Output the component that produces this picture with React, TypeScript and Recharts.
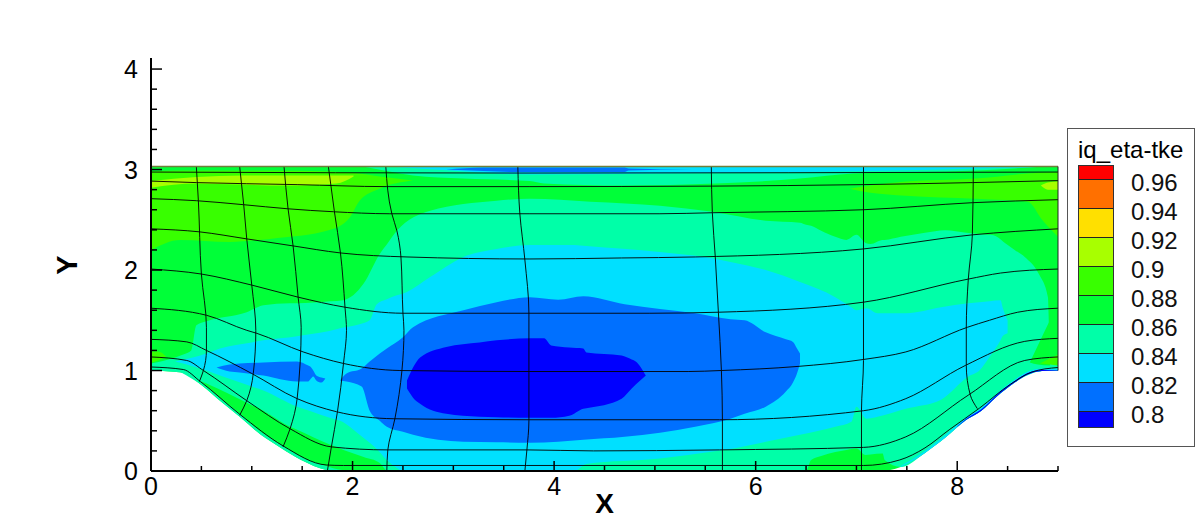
import { ComposedChart, Area, Line, XAxis, YAxis } from 'recharts'

// contour bands: [x, lower y, upper y]
type Row = [number, number, number]

const domainBand: Row[] = [
  [0, 1, 3.03], [0.3, 0.98, 3.03], [0.48, 0.87, 3.03], [0.66, 0.72, 3.03], [0.88, 0.54, 3.03],
  [1.09, 0.36, 3.03], [1.29, 0.23, 3.03], [1.49, 0.11, 3.03], [1.74, 0.01, 3.03], [1.8, 0, 3.03],
  [7.23, 0, 3.03], [7.44, 0.04, 3.03], [7.68, 0.18, 3.03], [7.88, 0.33, 3.03], [8.09, 0.51, 3.03],
  [8.24, 0.6, 3.03], [8.39, 0.74, 3.03], [8.57, 0.88, 3.03], [8.7, 0.96, 3.03], [8.84, 0.995, 3.03], [9, 1, 3.03],
]
const wallStripLeft: Row[] = [
  [0.3, 0.98, 1.0], [0.48, 0.87, 0.9], [0.66, 0.72, 0.75], [0.88, 0.54, 0.57], [1.09, 0.36, 0.39],
  [1.29, 0.23, 0.26], [1.49, 0.11, 0.14], [1.74, 0.01, 0.05], [1.8, 0, 0.03], [2.0, 0, 0],
]
const wallStripRight: Row[] = [
  [7.44, 0.04, 0.05], [7.68, 0.18, 0.2], [7.88, 0.33, 0.355], [8.09, 0.51, 0.535], [8.24, 0.6, 0.63],
  [8.39, 0.74, 0.77], [8.57, 0.88, 0.91], [8.7, 0.96, 0.99], [8.84, 0.995, 1.02], [9, 1, 1.02],
]
const blueWallRight: Row[] = [
  [8.0, 0.44, 0.445], [8.09, 0.51, 0.52], [8.24, 0.6, 0.615], [8.39, 0.74, 0.755], [8.57, 0.88, 0.895],
  [8.7, 0.96, 0.975], [8.84, 0.995, 1.005], [9, 1, 1.005],
]
const seafoamMain: Row[] = [
  [0, 1.0, 1.07], [0.255, 0.985, 1.135], [0.32, 0.975, 1.16], [0.4, 0.93, 1.2], [0.45, 0.91, 1.45],
  [0.55, 0.87, 1.49], [0.95, 0.68, 1.58], [1.115, 0.6, 1.65], [1.38, 0.44, 1.67], [1.45, 0.41, 1.67],
  [1.78, 0.26, 1.69], [1.91, 0.21, 1.7], [2.11, 0.14, 1.865], [2.27, 0.08, 2.16], [2.35, 0, 2.27],
  [2.44, 0, 2.39], [2.77, 0, 2.59], [3.43, 0, 2.69], [3.76, 0, 2.71], [4.36, 0, 2.68], [5.05, 0, 2.64],
  [5.57, 0, 2.58], [6.1, 0, 2.49], [6.44, 0, 2.47], [6.5, 0, 2.45], [6.55, 0.11, 2.44], [6.65, 0.15, 2.39],
  [6.79, 0.19, 2.33], [6.9, 0.21, 2.3], [7.0, 0.225, 2.35], [7.09, 0.16, 2.27], [7.14, 0.165, 2.26],
  [7.26, 0.175, 2.3], [7.28, 0.11, 2.3], [7.44, 0.04, 2.33], [7.68, 0.18, 2.37], [7.88, 0.33, 2.395],
  [8.09, 0.51, 2.37], [8.24, 0.6, 2.355], [8.36, 0.715, 2.345], [8.46, 0.795, 2.28],
  [8.57, 0.88, 2.2], [8.67, 0.94, 2.13], [8.81, 0.99, 1.96], [8.9, 1.0, 1.73], [8.91, 1.0, 1.43],
  [8.92, 1.0, 1.1], [9, 1.0, 1.05],
]
const cyanMain: Row[] = [
  [0.24, 1.09, 1.09], [0.55, 1.0, 1.17], [0.685, 0.95, 1.22], [1.0, 0.84, 1.28], [1.115, 0.8, 1.3],
  [1.45, 0.64, 1.34], [1.51, 0.62, 1.35], [1.84, 0.51, 1.41], [1.875, 0.5, 1.42], [2.07, 0.36, 1.46],
  [2.17, 0.28, 1.5], [2.24, 0.22, 1.66], [2.34, 0.11, 1.71], [2.44, 0.03, 1.75], [2.5, 0, 1.765],
  [2.77, 0, 1.93], [3.1, 0, 2.13], [3.43, 0, 2.21], [3.76, 0, 2.25], [4.2, 0, 2.25], [4.32, 0.07, 2.24],
  [5.05, 0.125, 2.18], [5.61, 0.2, 2.11], [5.75, 0.22, 2.08], [6.1, 0.29, 2.0], [6.44, 0.36, 1.88],
  [6.79, 0.44, 1.73], [6.95, 0.49, 1.63], [7.0, 0.64, 1.6], [7.1, 0.52, 1.62], [7.21, 0.54, 1.57],
  [7.49, 0.62, 1.57], [7.84, 0.71, 1.63], [8.11, 0.94, 1.67], [8.22, 1.0, 1.68], [8.32, 1.135, 1.69],
  [8.43, 1.3, 1.7], [8.45, 1.34, 1.63], [8.5, 1.37, 1.5],
]
const blueMain: Row[] = [
  [1.875, 0.9, 0.9], [1.94, 0.89, 0.97], [2.09, 0.84, 1.02], [2.17, 0.6, 1.09], [2.27, 0.5, 1.17],
  [2.34, 0.44, 1.22], [2.5, 0.39, 1.33], [2.6, 0.36, 1.43], [3.1, 0.29, 1.6], [3.43, 0.285, 1.68],
  [3.76, 0.28, 1.73], [4.04, 0.29, 1.705], [4.29, 0.31, 1.74], [4.7, 0.34, 1.66], [5.4, 0.44, 1.57],
  [5.75, 0.52, 1.51], [5.89, 0.57, 1.5], [6.1, 0.64, 1.38], [6.3, 0.79, 1.31], [6.37, 0.88, 1.285],
  [6.41, 0.97, 1.22], [6.44, 1.07, 1.17],
]
const blueIsland: Row[] = [
  [0.65, 1.03, 1.03], [0.78, 0.99, 1.06], [0.88, 0.98, 1.07], [1.115, 0.95, 1.08], [1.45, 0.89, 1.09],
  [1.56, 0.89, 1.05], [1.58, 0.91, 1.04], [1.61, 0.94, 1.0], [1.64, 0.9, 0.95], [1.69, 0.88, 0.93],
  [1.73, 0.92, 0.92],
]
const deepBlueCore: Row[] = [
  [2.54, 0.82, 0.9], [2.6, 0.73, 1.03], [2.67, 0.67, 1.13], [2.93, 0.57, 1.235], [3.26, 0.54, 1.28],
  [3.43, 0.535, 1.3], [3.76, 0.53, 1.32], [3.9, 0.53, 1.32], [3.97, 0.53, 1.25], [4.15, 0.55, 1.23],
  [4.29, 0.62, 1.22], [4.32, 0.625, 1.18], [4.67, 0.72, 1.15], [4.77, 0.82, 1.11], [4.81, 0.86, 1.09],
  [4.91, 0.95, 0.95],
]
const brightUpperLeft: Row[] = [
  [0, 2.2, 2.98], [0.29, 2.3, 2.99], [0.78, 2.28, 2.99], [1.18, 2.31, 2.99], [1.78, 2.4, 2.98],
  [1.97, 2.52, 2.97], [2.07, 2.69, 2.96], [2.27, 2.81, 2.93], [2.6, 2.89, 2.89],
]
const limeUpperLeft: Row[] = [
  [0, 2.82, 2.885], [0.45, 2.86, 2.925], [0.9, 2.85, 2.94], [1.35, 2.84, 2.94], [1.84, 2.86, 2.94],
  [2.01, 2.93, 2.94],
]
const seafoamTop: Row[] = [
  [2.1, 3.03, 3.03], [2.34, 2.985, 3.03], [2.6, 2.94, 3.03], [3.1, 2.91, 3.03], [3.76, 2.885, 3.03],
  [3.9, 2.86, 3.03], [4.7, 2.84, 3.03], [5.6, 2.86, 3.03], [6.44, 2.91, 3.03], [6.97, 2.96, 3.03],
  [8.2, 2.99, 3.03], [8.85, 3.03, 3.03],
]
const cyanTop: Row[] = [
  [2.34, 3.03, 3.03], [2.97, 2.99, 3.03], [3.76, 2.95, 3.03], [5.05, 2.96, 3.03], [6.44, 2.975, 3.03],
  [7.84, 3.0, 3.03], [9, 3.03, 3.03],
]
const blueTop: Row[] = [
  [2.93, 3.0, 3.0], [3.3, 2.985, 3.02], [3.66, 2.975, 3.02], [4.7, 2.975, 3.02], [4.74, 2.99, 3.01],
  [5.37, 3.0, 3.0],
]
const brightUpperRight: Row[] = [
  [6.93, 2.81, 2.81], [7.14, 2.77, 2.84], [7.49, 2.74, 2.88], [8.18, 2.71, 2.91], [8.7, 2.68, 2.96],
  [8.85, 2.49, 2.97], [9, 2.33, 2.975],
]
const limeUpperRight: Row[] = [[8.83, 2.84, 2.84], [8.9, 2.8, 2.87], [9, 2.8, 2.88]]
const greenPatchRight: Row[] = [[8.72, 1.08, 1.08], [8.8, 1.06, 1.25], [8.92, 1.05, 1.5]]
const brightPatchRight: Row[] = [[8.82, 1.07, 1.07], [8.92, 1.06, 1.12], [9, 1.05, 1.16]]
const brightPatchLeft: Row[] = [[0, 1.08, 1.19], [0.07, 1.1, 1.19], [0.15, 1.14, 1.14]]

// mesh lines: [x, y]
const meshH: [number, number][][] = [
  [[0, 2.975], [3.66, 2.965], [9, 2.975]],
  [[0, 2.885], [0.45, 2.87], [1.45, 2.85], [2.34, 2.83], [3.76, 2.83], [5.57, 2.835], [7.07, 2.85], [8.15, 2.87], [9, 2.89]],
  [[0, 2.71], [0.45, 2.69], [0.92, 2.65], [1.35, 2.61], [1.81, 2.58], [2.37, 2.56], [3.76, 2.56], [5.05, 2.56], [5.57, 2.57], [7.07, 2.6], [8.15, 2.67], [9, 2.7]],
  [[0, 2.41], [0.48, 2.38], [0.95, 2.31], [1.41, 2.24], [1.88, 2.17], [2.54, 2.13], [3.76, 2.11], [4.67, 2.12], [5.4, 2.13], [7.07, 2.21], [8.15, 2.35], [9, 2.41]],
  [[0, 2.01], [0.5, 1.96], [1.0, 1.85], [1.46, 1.73], [1.925, 1.63], [2.5, 1.57], [3.76, 1.57], [4.95, 1.57], [5.63, 1.58], [7.07, 1.68], [8.11, 1.91], [8.43, 1.97], [9, 2.01]],
  [[0, 1.62], [0.55, 1.55], [0.95, 1.4], [1.05, 1.37], [1.51, 1.185], [1.91, 1.07], [2.47, 1.0], [3.76, 0.99], [5.33, 0.99], [5.66, 1.0], [6.41, 1.04], [7.07, 1.11], [7.49, 1.185], [8.1, 1.43], [8.32, 1.5], [8.6, 1.58], [9, 1.62]],
  [[0, 1.31], [0.355, 1.285], [0.55, 1.2], [1.0, 0.97], [1.45, 0.72], [1.84, 0.59], [2.41, 0.52], [3.76, 0.51], [5.64, 0.51], [7.07, 0.6], [7.49, 0.72], [8.08, 1.05], [8.67, 1.29], [9, 1.32]],
  [[0, 1.135], [0.355, 1.1], [0.52, 1.0], [0.95, 0.7], [1.38, 0.42], [1.79, 0.24], [2.35, 0.21], [3.73, 0.21], [4.39, 0.2], [5.64, 0.21], [7.07, 0.235], [7.49, 0.34], [8.11, 0.755], [8.67, 1.1], [9, 1.135]],
  [[0, 1.035], [0.32, 1.01], [0.49, 0.89], [0.88, 0.565], [1.31, 0.25], [1.74, 0.06], [1.91, 0.055], [3.73, 0.055], [7.07, 0.055], [7.43, 0.11], [7.68, 0.23], [7.92, 0.41], [8.22, 0.625], [8.53, 0.865], [8.74, 0.985], [9, 1.03]],
]
const meshV: [number, number][][] = [
  [[0.45, 3.03], [0.47, 2.69], [0.5, 1.96], [0.55, 1.43], [0.55, 1.2], [0.52, 1.0], [0.48, 0.89]],
  [[0.88, 3.03], [0.92, 2.65], [0.95, 2.31], [1.0, 1.85], [1.04, 1.4], [1.015, 0.97], [0.95, 0.7], [0.88, 0.555]],
  [[1.32, 3.03], [1.36, 2.61], [1.41, 2.24], [1.46, 1.73], [1.49, 1.43], [1.45, 0.72], [1.38, 0.42], [1.31, 0.24]],
  [[1.76, 3.03], [1.82, 2.58], [1.88, 2.17], [1.925, 1.63], [1.94, 1.4], [1.91, 1.07], [1.85, 0.59], [1.79, 0.24], [1.75, 0]],
  [[2.33, 3.03], [2.39, 2.56], [2.44, 2.39], [2.48, 2.13], [2.5, 1.57], [2.51, 1.4], [2.49, 1.0], [2.42, 0.52], [2.35, 0.21], [2.34, 0]],
  [[3.64, 3.03], [3.66, 2.56], [3.71, 2.1], [3.75, 1.57], [3.75, 0.5], [3.73, 0.21], [3.71, 0]],
  [[5.56, 3.03], [5.57, 2.57], [5.6, 2.12], [5.63, 1.58], [5.66, 1.0], [5.67, 0.51], [5.67, 0]],
  [[7.07, 3.03], [7.07, 1.1], [7.05, 0.6], [7.05, 0]],
  [[8.16, 3.03], [8.15, 2.35], [8.11, 1.91], [8.09, 1.43], [8.09, 1.05], [8.13, 0.755], [8.2, 0.62]],
]
const topEdge: [number, number][] = [[0, 3.03], [9, 3.03]]
const rightEdge: [number, number][] = [[9, 3.03], [9, 1]]

const xTicks = [0, 0.5, 1, 1.5, 2, 2.5, 3, 3.5, 4, 4.5, 5, 5.5, 6, 6.5, 7, 7.5, 8, 8.5, 9]
const yTicks = [0, 0.2, 0.4, 0.6, 0.8, 1, 1.2, 1.4, 1.6, 1.8, 2, 2.2, 2.4, 2.6, 2.8, 3, 3.2, 3.4, 3.6, 3.8, 4]

const legendTitle = 'iq_eta-tke'
const legendLevels = ['0.96', '0.94', '0.92', '0.9', '0.88', '0.86', '0.84', '0.82', '0.8']
const legendColors = ['#ff0000', '#ff7000', '#ffe000', '#a8ff00', '#38ff00', '#00ff38', '#00ffa8', '#00e0ff', '#0070ff', '#0000ff']

const GREEN = '#00ff38', BRIGHT = '#38ff00', LIME = '#a8ff00', SEAFOAM = '#00ffa8', CYAN = '#00e0ff', BLUE = '#0070ff', DEEP = '#0000ff'

// painted in order, later bands cover earlier ones
const bands: [Row[], string][] = [
  [domainBand, GREEN],
  [brightUpperLeft, BRIGHT],
  [limeUpperLeft, LIME],
  [brightUpperRight, BRIGHT],
  [limeUpperRight, LIME],
  [brightPatchLeft, BRIGHT],
  [seafoamTop, SEAFOAM],
  [cyanTop, CYAN],
  [blueTop, BLUE],
  [seafoamMain, SEAFOAM],
  [greenPatchRight, GREEN],
  [brightPatchRight, BRIGHT],
  [wallStripLeft, SEAFOAM],
  [wallStripRight, CYAN],
  [blueWallRight, DEEP],
  [cyanMain, CYAN],
  [blueMain, BLUE],
  [blueIsland, BLUE],
  [deepBlueCore, DEEP],
]

const toBand = (rows: Row[]) => rows.map(([x, lo, hi]) => ({ x, band: [lo, hi] }))
const toLine = (pts: [number, number][]) => pts.map(([x, y]) => ({ x, y }))

const FONT = '"Liberation Sans", Arial, sans-serif'
const W = 1196, H = 524

function XTick({ x, y, payload }: any) {
  const major = payload.value % 2 === 0
  return (
    <g>
      <line x1={x} y1={y} x2={x} y2={y - (major ? 10 : 5)} stroke="#000" strokeWidth={1.5} />
      {major && (
        <text x={x} y={y + 24} textAnchor="middle" fontSize={25} fill="#000" fontFamily={FONT}>{payload.value}</text>
      )}
    </g>
  )
}

function YTick({ x, y, payload }: any) {
  const major = Math.abs(payload.value - Math.round(payload.value)) < 0.001
  return (
    <g>
      <line x1={x} y1={y} x2={x + (major ? 11 : 6)} y2={y} stroke="#000" strokeWidth={1.5} />
      {major && (
        <text x={x - 13} y={y + 9} textAnchor="end" fontSize={25} fill="#000" fontFamily={FONT}>{payload.value}</text>
      )}
    </g>
  )
}

const YLabel = () => (
  <text transform="translate(77,265) rotate(-90)" textAnchor="middle" fontSize={29} fontWeight="bold" fill="#000" fontFamily={FONT}>Y</text>
)
const XLabel = () => (
  <text x={604.5} y={513} textAnchor="middle" fontSize={28} fontWeight="bold" fill="#000" fontFamily={FONT}>X</text>
)

function ColorKey() {
  const heights = [14, 29, 29, 29, 29, 29, 29, 29, 29, 15]
  return (
    <div style={{ position: 'absolute', left: 1067, top: 128, width: 126, height: 317, border: '1px solid #555', background: '#fff' }}>
      <div style={{ position: 'absolute', left: 10, top: 7, fontSize: 24, lineHeight: '28px', whiteSpace: 'nowrap' }}>{legendTitle}</div>
      <div style={{ position: 'absolute', left: 10, top: 36, width: 36, border: '1px solid #333', boxSizing: 'border-box' }}>
        {legendColors.map((c, i) => (
          <div key={c} style={{ height: heights[i], background: c, boxSizing: 'border-box', borderBottom: i < 9 ? '1px solid #222' : 'none' }} />
        ))}
      </div>
      {legendLevels.map((l, i) => (
        <div key={l} style={{ position: 'absolute', left: 63, top: 40 + i * 29, fontSize: 24, lineHeight: '28px', color: '#111' }}>{l}</div>
      ))}
    </div>
  )
}

export default function App() {
  return (
    <div style={{ position: 'absolute', left: 0, top: 0, width: W, height: H, background: '#fff', fontFamily: FONT, overflow: 'hidden' }}>
      {/* contours and mesh */}
      <div style={{ position: 'absolute', left: 0, top: 0 }}>
        <ComposedChart width={W} height={H} margin={{ top: 58, right: 138, bottom: 53, left: 151 }}>
          <XAxis hide type="number" dataKey="x" domain={[0, 9]} />
          <YAxis hide type="number" domain={[0, 4.11]} allowDataOverflow />
          {bands.map(([rows, color], i) => (
            <Area key={i} data={toBand(rows)} dataKey="band" type="monotoneX" fill={color} fillOpacity={1} stroke="none"
              dot={false} activeDot={false} isAnimationActive={false} />
          ))}
          {meshH.map((pts, i) => (
            <Line key={i} data={toLine(pts)} dataKey="y" type="monotoneX" stroke="#000" strokeWidth={1} strokeOpacity={0.9}
              dot={false} activeDot={false} isAnimationActive={false} />
          ))}
          {meshV.map((pts, i) => (
            <Line key={i} data={toLine(pts)} dataKey="y" type="monotoneY" stroke="#000" strokeWidth={1} strokeOpacity={0.9}
              dot={false} activeDot={false} isAnimationActive={false} />
          ))}
          <Line data={toLine(topEdge)} dataKey="y" stroke="#6f7f3a" strokeWidth={1.5} dot={false} activeDot={false} isAnimationActive={false} />
          <Line data={toLine(rightEdge)} dataKey="y" stroke="#222" strokeWidth={1} dot={false} activeDot={false} isAnimationActive={false} />
        </ComposedChart>
      </div>
      {/* axes go in a second chart so the ticks stay on top of the contours */}
      <div style={{ position: 'absolute', left: 0, top: 0 }}>
        <ComposedChart width={W} height={H} data={xTicks.map((x) => ({ x }))} margin={{ top: 58, right: 138, bottom: 0, left: 0 }}>
          <XAxis
            type="number" dataKey="x" domain={[0, 9]} ticks={xTicks} interval={0} height={53}
            tickSize={0} tickMargin={0} tickLine={false} tick={XTick}
            axisLine={{ stroke: '#000', strokeWidth: 2 }} label={{ content: XLabel }}
          />
          <YAxis
            type="number" domain={[0, 4.11]} ticks={yTicks} interval={0} width={151}
            tickSize={0} tickMargin={0} tickLine={false} tick={YTick} allowDataOverflow
            axisLine={{ stroke: '#000', strokeWidth: 2 }} label={{ content: YLabel }}
          />
        </ComposedChart>
      </div>
      <ColorKey />
    </div>
  )
}
